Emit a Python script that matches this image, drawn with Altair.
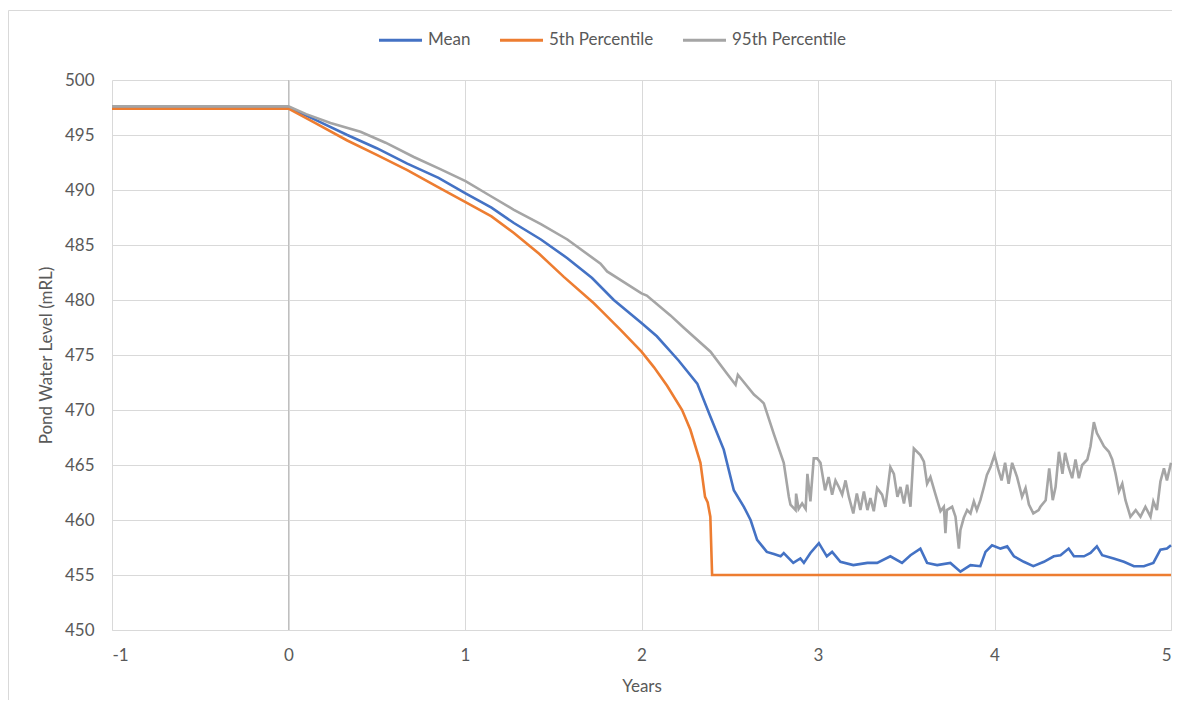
import altair as alt
import pandas as pd

# ---- data ----
mean_years = [-1, -0.5, 0, 0.15, 0.333, 0.5, 0.673, 0.85, 1.003, 1.15, 1.277, 1.43, 1.58, 1.72, 1.843, 2.0, 2.087, 2.21,
              2.316, 2.39, 2.466, 2.523, 2.58, 2.618, 2.655, 2.71, 2.75, 2.788, 2.806, 2.86, 2.9, 2.92, 2.957,
              3.005, 3.05, 3.08, 3.127, 3.2, 3.28, 3.335, 3.41, 3.476, 3.524, 3.58, 3.618, 3.675, 3.75,
              3.807, 3.864, 3.92, 3.949, 3.986, 4.034, 4.072, 4.11, 4.166, 4.22, 4.28, 4.336, 4.374,
              4.42, 4.45, 4.507, 4.544, 4.58, 4.61, 4.675, 4.733, 4.79, 4.846, 4.9, 4.94, 4.977, 5.0]
mean_vals = [497.5, 497.5, 497.5, 496.4, 495.0, 493.8, 492.4, 491.1, 489.7, 488.4, 487.0, 485.5, 483.8, 482.0, 480.0, 477.9, 476.7, 474.5,
             472.4, 469.4, 466.4, 462.7, 461.2, 460.0, 458.2, 457.1, 456.9, 456.7, 457.0, 456.1, 456.5, 456.1, 457.0,
             457.9, 456.7, 457.1, 456.2, 455.9, 456.1, 456.1, 456.7, 456.1, 456.8, 457.4, 456.1, 455.9, 456.1,
             455.3, 455.9, 455.8, 457.1, 457.7, 457.4, 457.6, 456.7, 456.2, 455.8, 456.2, 456.7, 456.8,
             457.4, 456.7, 456.7, 457.0, 457.6, 456.8, 456.5, 456.2, 455.8, 455.8, 456.1, 457.3, 457.4, 457.7]

p5_years = [-1, -0.5, 0, 0.15, 0.333, 0.5, 0.673, 0.842, 1.003, 1.15, 1.277, 1.42, 1.56, 1.73, 1.768, 1.843, 1.88, 2.0, 2.07,
            2.145, 2.23, 2.277, 2.334, 2.36, 2.375, 2.39, 2.4, 5.0]
p5_vals = [497.4, 497.4, 497.4, 496.1, 494.5, 493.2, 491.8, 490.3, 488.9, 487.6, 486.1, 484.2, 482.1, 479.7, 479.1, 477.9, 477.3, 475.3, 473.9,
           472.2, 470.0, 468.2, 465.2, 462.1, 461.6, 460.3, 455.0, 455.0]

p95_years = [-1, -0.5, 0, 0.1, 0.238, 0.408, 0.55, 0.71, 0.86, 1.003, 1.14, 1.277, 1.43, 1.58, 1.768, 1.805, 2.0, 2.03,
             2.164, 2.238, 2.391, 2.485, 2.533, 2.546, 2.637, 2.674, 2.693, 2.75, 2.806, 2.835, 2.844,
             2.873, 2.876, 2.89, 2.91, 2.93, 2.94, 2.957, 2.976, 2.995, 3.014, 3.04, 3.06, 3.08, 3.099,
             3.118, 3.137, 3.156, 3.175, 3.2, 3.22, 3.24, 3.26, 3.28, 3.297, 3.316, 3.335, 3.363, 3.382,
             3.41, 3.43, 3.45, 3.467, 3.487, 3.505, 3.524, 3.543, 3.58, 3.6, 3.618, 3.637, 3.666, 3.694,
             3.713, 3.722, 3.73, 3.76, 3.779, 3.798, 3.807, 3.826, 3.845, 3.864, 3.883, 3.9, 3.92, 3.94,
             3.957, 3.977, 4.0, 4.023, 4.04, 4.06, 4.08, 4.1, 4.128, 4.156, 4.176, 4.195, 4.22, 4.25,
             4.26, 4.29, 4.31, 4.33, 4.346, 4.365, 4.385, 4.4, 4.42, 4.44, 4.459, 4.478, 4.497, 4.526,
             4.544, 4.563, 4.58, 4.6, 4.62, 4.648, 4.667, 4.686, 4.705, 4.724, 4.742, 4.77, 4.8, 4.827,
             4.855, 4.884, 4.9, 4.92, 4.94, 4.96, 4.977, 5.0]
p95_vals = [497.6, 497.6, 497.6, 496.9, 496.1, 495.3, 494.3, 493.0, 491.9, 490.8, 489.5, 488.2, 486.9, 485.5, 483.3, 482.6, 480.6, 480.4,
            478.6, 477.5, 475.3, 473.3, 472.3, 473.2, 471.4, 470.9, 470.6, 467.8, 465.2, 462.1, 461.4,
            460.9, 462.4, 461.0, 461.5, 461.0, 464.2, 461.7, 465.6, 465.6, 465.2, 462.7, 463.9, 462.3, 463.6,
            463.0, 462.3, 463.6, 462.1, 460.6, 462.4, 460.9, 462.6, 460.9, 462.0, 460.8, 462.9, 462.3, 461.2,
            464.8, 464.2, 462.1, 463.0, 461.5, 463.2, 461.2, 466.5, 465.9, 465.3, 463.3, 463.9, 462.3, 460.8,
            461.2, 458.8, 460.9, 461.2, 460.3, 457.4, 459.1, 460.2, 460.9, 460.6, 461.7, 460.9, 461.8, 463.0,
            464.1, 464.8, 465.9, 464.5, 463.6, 465.2, 463.3, 465.2, 463.9, 462.1, 462.9, 461.4, 460.6, 460.9,
            461.2, 461.8, 464.7, 461.8, 463.0, 466.2, 464.2, 466.1, 464.8, 463.8, 465.5, 463.8, 465.0, 465.5,
            466.7, 468.9, 467.9, 467.3, 466.7, 466.2, 465.5, 464.2, 462.6, 463.3, 461.8, 460.3, 460.9, 460.3,
            461.2, 460.3, 461.7, 460.9, 463.5, 464.7, 463.6, 465.2]

series_names = ["Mean", "5th Percentile", "95th Percentile"]
series_colors = ["#4472C4", "#ED7D31", "#A5A5A5"]
x_ticks = [-1, 0, 1, 2, 3, 4, 5]
y_ticks = [450, 455, 460, 465, 470, 475, 480, 485, 490, 495, 500]

frames = []
for name, yrs, vals in [("Mean", mean_years, mean_vals),
                        ("5th Percentile", p5_years, p5_vals),
                        ("95th Percentile", p95_years, p95_vals)]:
    frames.append(pd.DataFrame({"Years": yrs, "Level": vals, "Series": name}))
df = pd.concat(frames, ignore_index=True)

FONT = "Lato"
TXT = "#595959"

xscale = alt.Scale(domain=[-1, 5], nice=False, zero=False)
yscale = alt.Scale(domain=[450, 500], nice=False, zero=False)
cscale = alt.Scale(domain=series_names, range=series_colors)

x_axis = alt.Axis(values=x_ticks, labelExpr="'' + datum.value", grid=True,
                  gridColor="#d9d9d9", domainColor="#d9d9d9", ticks=False,
                  labelPadding=17, titlePadding=15)
y_axis = alt.Axis(values=y_ticks, grid=True,
                  gridColor="#d9d9d9", domain=False, ticks=False,
                  labelPadding=18, titlePadding=9)

legend = alt.Legend(title=None, orient="none", direction="horizontal",
                    legendX=265, legendY=-63.5, symbolType="stroke",
                    symbolSize=1850, symbolStrokeWidth=3,
                    labelOffset=4, columnPadding=22, padding=0,
                    labelFontSize=17, labelColor=TXT, labelFont=FONT)

base = alt.Chart(df)

def series_layer(name):
    return base.transform_filter(alt.datum.Series == name).mark_line(strokeWidth=2.6).encode(
        x=alt.X("Years:Q", scale=xscale, axis=x_axis, title="Years"),
        y=alt.Y("Level:Q", scale=yscale, axis=y_axis, title="Pond Water Level (mRL)"),
        color=alt.Color("Series:N", scale=cscale, sort=series_names, legend=legend),
    )

zero_rule = alt.Chart(pd.DataFrame({"Years": [0]})).mark_rule(color="#bfbfbf", strokeWidth=1).encode(
    x=alt.X("Years:Q", scale=xscale, axis=x_axis, title="Years"))

border = alt.Chart(pd.DataFrame({"a": [0]})).mark_rect(
    fill="transparent", stroke="#d9d9d9", strokeWidth=1).encode(
    x=alt.value(-103.5), x2=alt.value(1100), y=alt.value(-69.5), y2=alt.value(700))

chart = alt.layer(
    border,
    zero_rule,
    series_layer("Mean"),
    series_layer("5th Percentile"),
    series_layer("95th Percentile"),
).properties(
    width=1059, height=550,
    autosize=alt.AutoSizeParams(type="none"),
    padding={"left": 104, "top": 72, "right": 1, "bottom": 70},
    background="white",
).configure_view(stroke="transparent").configure_axis(
    labelFont=FONT, titleFont=FONT, labelColor=TXT, titleColor=TXT,
    labelFontSize=17, titleFontSize=17, titleFontWeight="normal",
)

chart.save("out.html", embed_options={"renderer": "svg", "actions": False})
